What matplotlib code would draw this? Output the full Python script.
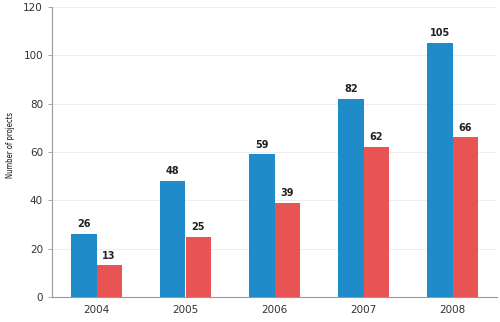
import numpy as np
import matplotlib
matplotlib.use("Agg")
import matplotlib.pyplot as plt

years = ["2004", "2005", "2006", "2007", "2008"]
series_a = [26, 48, 59, 82, 105]
series_b = [13, 25, 39, 62, 66]

BLUE = "#1f8bc9"
RED = "#e85454"

fig = plt.figure(figsize=(5, 3.22), dpi=100)
ax = fig.add_axes([0.104, 0.078, 0.89, 0.9])

x = np.arange(len(years))
w = 0.285
bars_a = ax.bar(x - w / 2, series_a, w, color=BLUE, zorder=3)
bars_b = ax.bar(x + w / 2, series_b, w, color=RED, zorder=3)

# value labels above each bar
for bars in (bars_a, bars_b):
    for b in bars:
        ax.text(b.get_x() + b.get_width() / 2, b.get_height() + 2,
                f"{int(b.get_height())}", ha="center", va="bottom",
                fontsize=7, fontweight="bold", color="#222222")

ax.set_xlim(-0.5, len(years) - 0.5)
ax.set_ylim(0, 120)
ax.set_yticks(range(0, 121, 20))
ax.set_xticks(x)
ax.set_xticklabels(years)
ax.tick_params(axis="both", labelsize=7.5, colors="#333333", length=3, width=0.6)
ax.tick_params(axis="x", length=0, pad=6)
ax.tick_params(axis="y", color="#999999")
ax.grid(axis="y", color="#eeeeee", linewidth=0.7, zorder=0)

for s in ("top", "right"):
    ax.spines[s].set_visible(False)
for s in ("left", "bottom"):
    ax.spines[s].set_color("#999999")
    ax.spines[s].set_linewidth(0.8)

fig.text(0.022, 0.55, "Number of projects", rotation=90, ha="center", va="center",
         fontsize=5.5, stretch="condensed", color="#111111")

fig.savefig("out.png", dpi=100)
